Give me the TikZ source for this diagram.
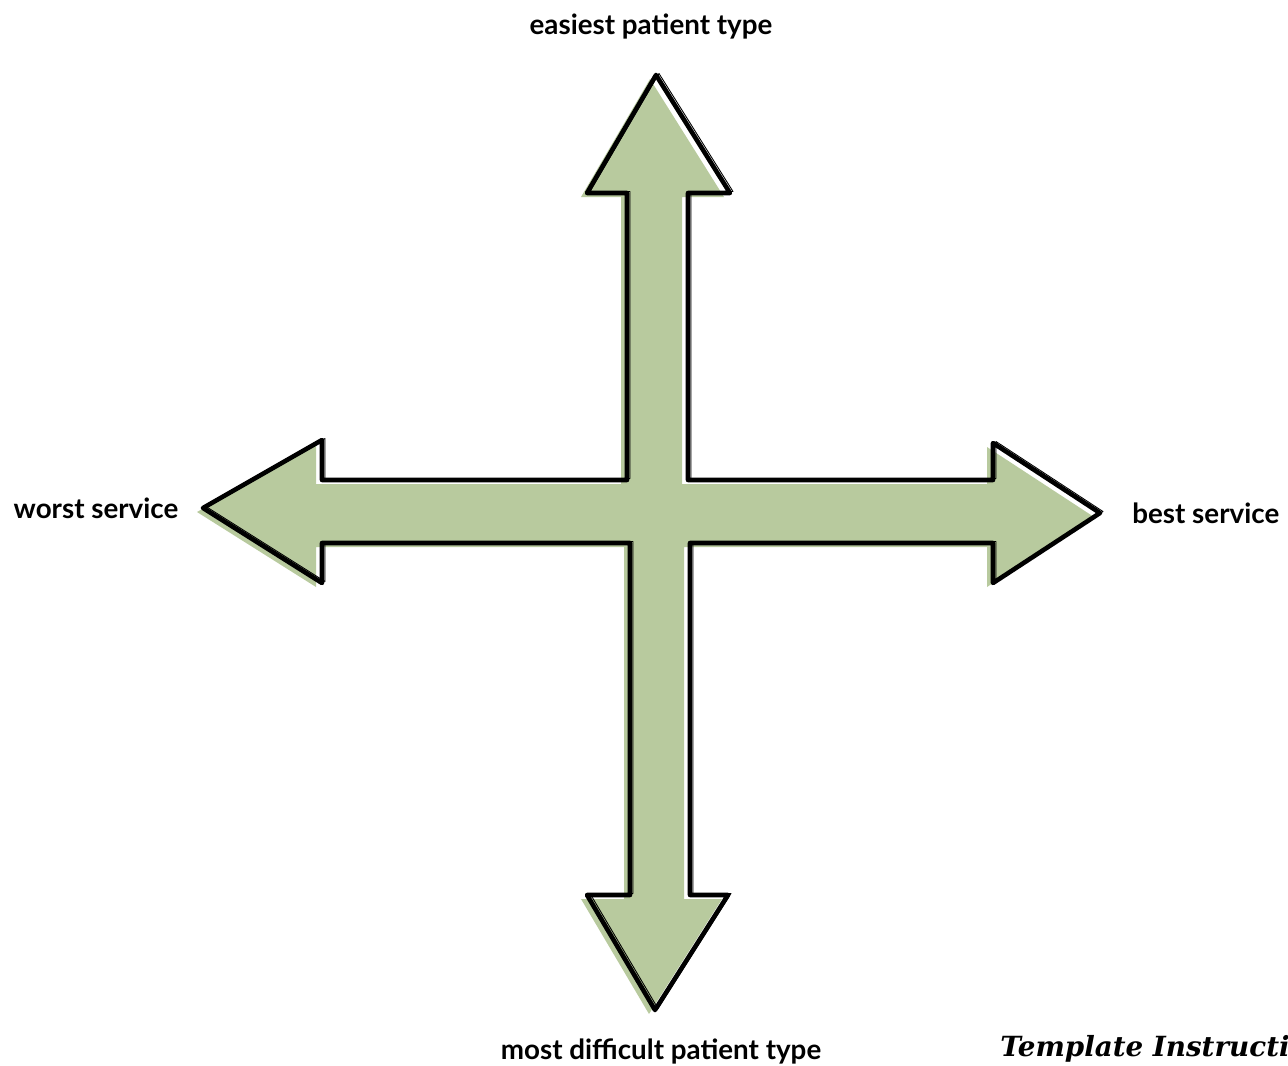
\documentclass[tikz,border=0pt]{standalone}
\usepackage{fontspec}
\setmainfont{Lato}
\newfontfamily\notefont{DejaVu Serif}
\usepackage{xcolor}
\usetikzlibrary{positioning}

\definecolor{sage}{RGB}{184,202,158}

\begin{document}
\begin{tikzpicture}[
  x=0.02cm, y=-0.02cm,
  axislabel/.style={font=\fontsize{15.8}{19}\selectfont\bfseries, inner sep=0pt},
  crossfill/.style={fill=sage, draw=none},
  crossline/.style={draw=black, line width=2.6pt, line join=round},
  sketchline/.style={draw=black, line width=0.5pt, line join=round}
]
\useasboundingbox (0,0) rectangle (1288,1065);

% the cross of four arrows
\def\crosspath{(656,75) -- (730,193) -- (688,193) -- (688,480) -- (993,480) -- (993,443)
  -- (1100,513) -- (993,583) -- (993,543) -- (690,543) -- (690,895) -- (728,895)
  -- (655,1010) -- (587,895) -- (630,895) -- (630,543) -- (322,543) -- (322,583)
  -- (203,508) -- (322,440) -- (322,480) -- (627,480) -- (627,193) -- (587,193) -- cycle}
\path[crossfill, xshift=-0.12cm, yshift=-0.08cm] \crosspath;
\path[crossline] \crosspath;
\path[sketchline, xshift=0.06cm, yshift=0.03cm] \crosspath;

% labels
\node[axislabel] (easy) at (651,27) {easiest patient type};
\node[axislabel] (hard) at (661,1051) {most difficult patient type};
\node[axislabel] (worst) at (96,508) {worst service};
\node[axislabel, anchor=west] (best) at (1132,513) {best service};
\node[font=\notefont\fontsize{15.8}{19}\selectfont\bfseries\itshape, anchor=east, inner sep=0pt]
  (note) at (1290,1049) {Template Instructi};
\end{tikzpicture}
\end{document}
